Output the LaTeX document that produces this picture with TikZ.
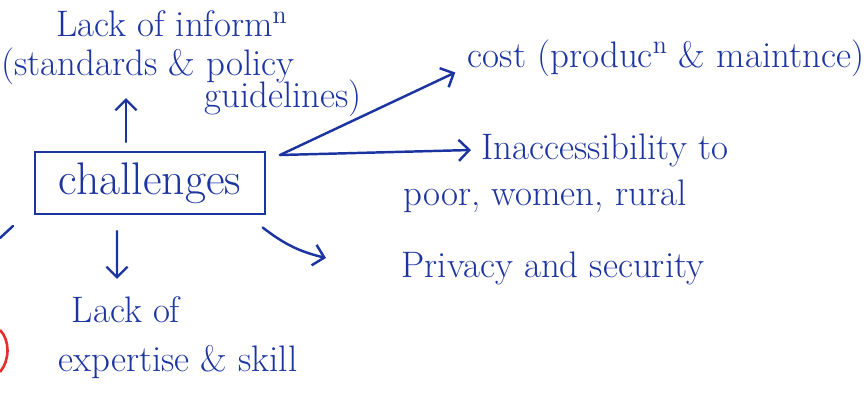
\documentclass[tikz,border=0pt]{standalone}
\usepackage{tikz}
\usetikzlibrary{arrows.meta}
\definecolor{ink}{RGB}{28,52,160}
\definecolor{redink}{RGB}{232,45,45}
\tikzset{
  note/.style={text=ink, font=\fontsize{21}{25}\selectfont, inner sep=0pt},
  pen/.style={draw=ink, line width=1.4pt, line cap=round},
  arr/.style={pen, -{Straight Barb[length=6pt, width=12pt]}},
}

\begin{document}
\begin{tikzpicture}[x=0.02cm, y=-0.02cm]
			\useasboundingbox (0,0) rectangle (867,406);

			% central box
			\node[note, font=\fontsize{26}{30}\selectfont, draw=ink, line width=1.4pt, minimum width=4.6cm, minimum height=1.24cm] (chal) at (150,183) {challenges};

			% up: information
			\node[note] (info1) at (172,24) {Lack of inform\textsuperscript{n}};
			\node[note] (info2) at (148,66) {(standards \& policy};
			\node[note] (info3) at (283,98) {guidelines)};

			% right side
			\node[note] (cost) at (666,58) {cost (produc\textsuperscript{n} \& maintnce)};
			\node[note] (inacc1) at (605,150) {Inaccessibility to};
			\node[note] (inacc2) at (545,196) {poor, women, rural};
			\node[note] (priv) at (553,268) {Privacy and security};

			% down: skills
			\node[note] (lack1) at (126,310) {Lack of};
			\node[note] (lack2) at (178,362) {expertise \& skill};

			% arrows
			\coordinate (fork) at (280,155);
			\coordinate (upTip) at (126,98);
			\coordinate (privTip) at (326,258);
			\draw[arr] ([yshift=5pt]chal.north -| upTip) -- (upTip);
			\draw[arr] (fork) -- ([xshift=-7pt, yshift=-3pt]cost.base west);
			\draw[arr] (fork) -- ([xshift=-6pt]inacc1.west);
			\draw[arr] ([xshift=-2pt, yshift=-7pt]chal.south east) to[bend right=12] (privTip);
			\draw[arr] ([xshift=-0.66cm, yshift=-9pt]chal.south) -- ([yshift=10pt]lack1.north -| 117,0);

			% stray marks at the left edge
			\draw[pen] (0,238) -- (13,226);
			\draw[redink, line width=1.5pt] (0,330) .. controls (10,340) and (10,360) .. (0,372);
		\end{tikzpicture}
\end{document}
